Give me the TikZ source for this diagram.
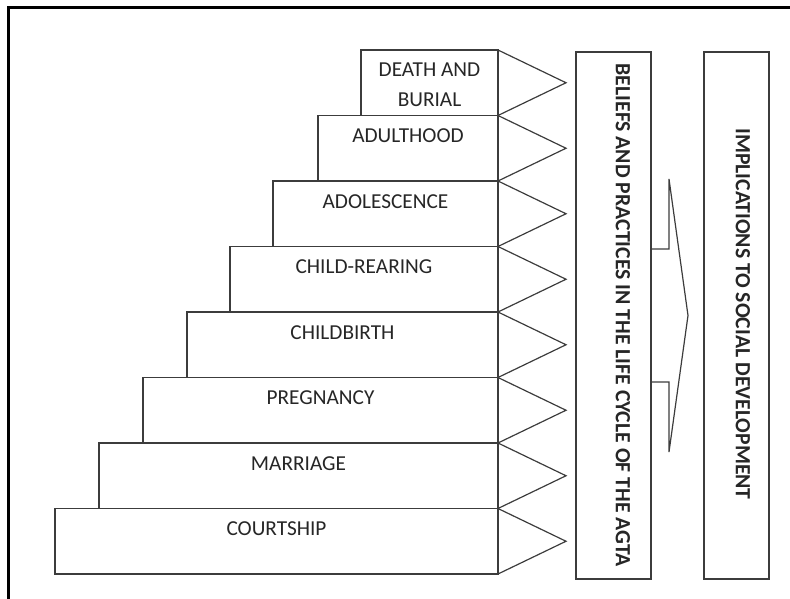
\documentclass[tikz,border=0pt]{standalone}
\usepackage{fontspec}
\setmainfont{Carlito}
\definecolor{boxgray}{HTML}{3C3C3C}
\definecolor{txtgray}{HTML}{262626}
\begin{document}
\begin{tikzpicture}[x=1pt,y=-1pt,
  stagebox/.style={draw=boxgray, line width=1.2pt, rectangle, anchor=north west,
    minimum height=65.5pt, inner sep=0pt, outer sep=0pt},
  tallbox/.style={draw=boxgray, line width=1.2pt, rectangle, anchor=north west,
    minimum height=527pt, inner sep=0pt, outer sep=0pt},
  lbl/.style={font=\fontsize{21.3}{30}\selectfont, text=txtgray, anchor=base, inner sep=0pt},
  vlbl/.style={font=\fontsize{21.7}{30}\selectfont\bfseries, text=txtgray, rotate=-90, inner sep=0pt},
  pointer/.style={draw=boxgray, line width=1.2pt, line join=miter},
  frameline/.style={draw=black, line width=3pt}]
\useasboundingbox (0,0) rectangle (790,599);
% outer frame (top and left visible)
\draw[frameline] (8.5,599) -- (8.5,7.5) -- (790,7.5);

% stages
\node[stagebox, minimum width=443pt] (court) at (55,508.5) {};
\node[stagebox, minimum width=399pt] (marr) at (99,443) {};
\node[stagebox, minimum width=355pt] (preg) at (143,377.5) {};
\node[stagebox, minimum width=311pt] (birth) at (187,312) {};
\node[stagebox, minimum width=268pt] (rear) at (230,246.5) {};
\node[stagebox, minimum width=225pt] (adol) at (273,181) {};
\node[stagebox, minimum width=180pt] (adult) at (318,115.5) {};
\node[stagebox, minimum width=137pt] (death) at (361,50) {};

\node[lbl] (tcourt) at ([yshift=-27pt]court.north) {COURTSHIP};
\node[lbl] (tmarr) at ([yshift=-27pt]marr.north) {MARRIAGE};
\node[lbl] (tpreg) at ([yshift=-27pt]preg.north) {PREGNANCY};
\node[lbl] (tbirth) at ([yshift=-27pt]birth.north) {CHILDBIRTH};
\node[lbl] (trear) at ([yshift=-27pt]rear.north) {CHILD-REARING};
\node[lbl] (tadol) at ([yshift=-27pt]adol.north) {ADOLESCENCE};
\node[lbl] (tadult) at ([yshift=-27pt]adult.north) {ADULTHOOD};
\node[lbl] (tdeath1) at ([yshift=-27pt]death.north) {DEATH AND};
\node[lbl] (tdeath2) at ([yshift=-57pt]death.north) {BURIAL};

% triangular pointers
\foreach \b in {court,marr,preg,birth,rear,adol,adult,death}{
  \draw[pointer] (\b.north east) -- ([xshift=68pt]\b.east) -- (\b.south east);
}

% big arrow (shaft hidden behind the beliefs box)
\draw[pointer] (651,249) -- (669,249) -- (669,179) -- (688,315.5) -- (669,452) -- (669,382) -- (651,382);

% tall boxes
\node[tallbox, minimum width=75pt, fill=white] (beliefs) at (576,52) {};
\node[tallbox, minimum width=65pt] (implic) at (704,52) {};
\node[vlbl] (tbeliefs) at (623,315) {BELIEFS AND PRACTICES IN THE LIFE CYCLE OF THE AGTA};
\node[vlbl] (timplic) at (743,314) {IMPLICATIONS TO SOCIAL DEVELOPMENT};
\end{tikzpicture}
\end{document}
